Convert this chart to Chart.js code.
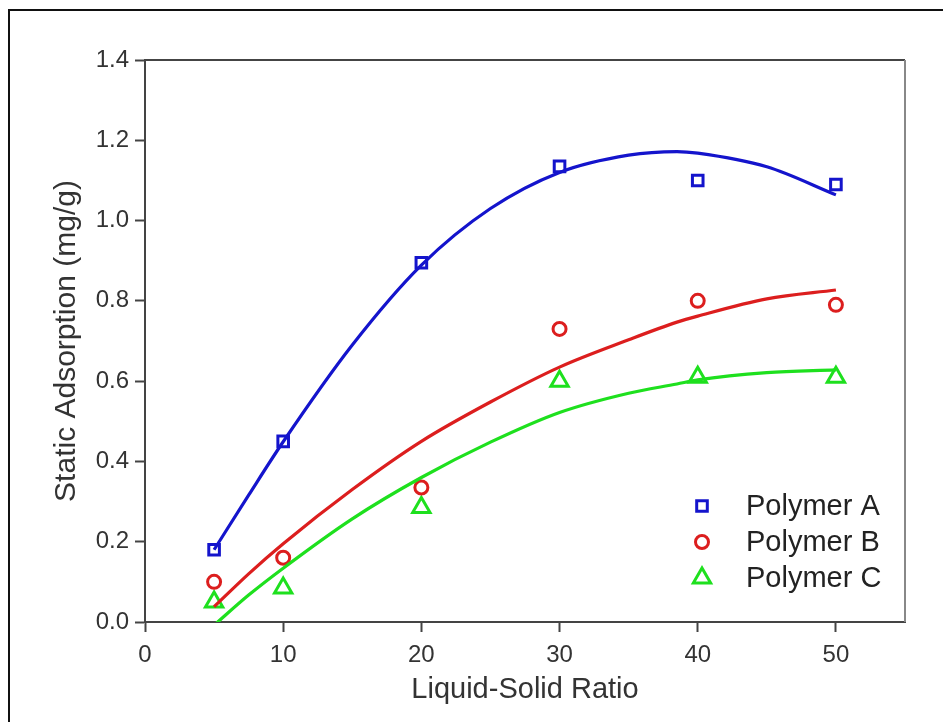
<!DOCTYPE html>
<html lang="en">
<head>
<meta charset="utf-8">
<title>Static Adsorption vs Liquid-Solid Ratio</title>
<script src="https://cdn.jsdelivr.net/npm/chart.js"></script>
<style>
  html, body { margin: 0; padding: 0; background: #fff; overflow: hidden; }
  #wrap { position: relative; width: 943px; height: 722px; }
  #frame { position: absolute; left: 8px; top: 9px; width: 1000px; height: 1000px; border: 2px solid #111; }
  #chart { position: absolute; left: 0; top: 0; }
</style>
<script>
  // measured points
  var dataX = [5, 10, 20, 30, 40, 50];
  var polyA = [0.18, 0.45, 0.895, 1.135, 1.10, 1.09];
  var polyB = [0.10, 0.16, 0.335, 0.73, 0.80, 0.79];
  var polyC = [0.05, 0.085, 0.285, 0.60, 0.61, 0.61];

  // fitted curves
  var fitX = [5, 7.5, 10, 15, 20, 25, 30, 35, 38.5, 40, 45, 50];
  var fitA = [0.18, 0.316, 0.449, 0.69, 0.889, 1.03, 1.12, 1.163, 1.172, 1.168, 1.134, 1.064];
  var fitB = [0.038, 0.12, 0.195, 0.33, 0.45, 0.548, 0.635, 0.703, 0.747, 0.762, 0.805, 0.827];
  var fitC = [-0.008, 0.067, 0.134, 0.257, 0.36, 0.448, 0.522, 0.570, 0.593, 0.603, 0.621, 0.628];

  var seriesNames = ["Polymer A", "Polymer B", "Polymer C"];
  var xTicks = [0, 10, 20, 30, 40, 50];

  var colors = ["#1414cc", "#dc1e1e", "#1ee01e"];
  var styles = ["rect", "circle", "triangle"];
  var radii = [7.5, 6.5, 10];

  function pts(xs, ys) {
    return xs.map(function (x, i) { return { x: x, y: ys[i] }; });
  }

  // box on top/right + legend inside the plot
  var boxLegend = {
    id: "boxLegend",
    afterDatasetsDraw: function (chart) {
      var ctx = chart.ctx;
      var a = chart.chartArea;
      ctx.save();
      ctx.lineWidth = 2;
      ctx.strokeStyle = "#444";
      ctx.beginPath();
      ctx.moveTo(a.left, a.top);
      ctx.lineTo(a.right, a.top);
      ctx.stroke();
      ctx.strokeStyle = "#888";
      ctx.beginPath();
      ctx.moveTo(a.right, a.top);
      ctx.lineTo(a.right, a.bottom);
      ctx.stroke();

      ctx.font = "29px 'Liberation Sans', Arial, sans-serif";
      ctx.textBaseline = "middle";
      ctx.textAlign = "left";
      for (var i = 0; i < 3; i++) {
        var y = a.bottom - 116 + i * 36;
        ctx.strokeStyle = colors[i];
        ctx.fillStyle = "rgba(0,0,0,0)";
        ctx.lineWidth = 3;
        Chart.helpers.drawPoint(ctx, { pointStyle: styles[i], radius: radii[i], rotation: 0, borderWidth: 3 }, a.right - 203, y);
        ctx.fillStyle = "#222";
        ctx.fillText(seriesNames[i], a.right - 159, y + 1);
      }
      ctx.restore();
    }
  };

  window.onload = function () {
    var ctx = document.getElementById("chart");
    var fits = [fitA, fitB, fitC];
    var marks = [polyA, polyB, polyC];
    var datasets = [];
    for (var i = 0; i < 3; i++) {
      datasets.push({
        label: seriesNames[i] + " fit",
        type: "line",
        data: pts(fitX, fits[i]),
        borderColor: colors[i],
        borderWidth: 3.2,
        pointRadius: 0,
        cubicInterpolationMode: "monotone",
        fill: false,
        clip: 0
      });
    }
    for (var j = 0; j < 3; j++) {
      datasets.push({
        label: seriesNames[j],
        type: "scatter",
        data: pts(dataX, marks[j]),
        borderColor: colors[j],
        backgroundColor: "rgba(0,0,0,0)",
        pointStyle: styles[j],
        pointRadius: radii[j],
        pointBorderWidth: 3,
        showLine: false
      });
    }

    new Chart(ctx, {
      type: "scatter",
      data: { datasets: datasets },
      plugins: [boxLegend],
      options: {
        responsive: false,
        devicePixelRatio: 1,
        animation: false,
        layout: { padding: { top: 60, right: 38, left: 0, bottom: 0 } },
        plugins: { legend: { display: false }, tooltip: { enabled: false } },
        scales: {
          x: {
            type: "linear",
            min: 0,
            max: 55,
            afterBuildTicks: function (axis) {
              axis.ticks = xTicks.map(function (v) { return { value: v }; });
            },
            afterFit: function (axis) { axis.height = 100; },
            grid: { drawOnChartArea: false, drawTicks: true, tickLength: 10, tickWidth: 2, tickColor: "#444" },
            border: { display: true, color: "#444", width: 2 },
            ticks: {
              color: "#333",
              padding: 9,
              maxRotation: 0,
              font: { family: "'Liberation Sans', Arial, sans-serif", size: 24 }
            },
            title: {
              display: true,
              text: "Liquid-Solid Ratio",
              color: "#333",
              padding: { top: 0, bottom: 14.5 },
              font: { family: "'Liberation Sans', Arial, sans-serif", size: 29 }
            }
          },
          y: {
            type: "linear",
            min: 0,
            max: 1.4,
            afterFit: function (axis) { axis.width = 145; },
            grid: { drawOnChartArea: false, drawTicks: true, tickLength: 10, tickWidth: 2, tickColor: "#444" },
            border: { display: true, color: "#444", width: 2 },
            ticks: {
              stepSize: 0.2,
              color: "#333",
              padding: 6,
              font: { family: "'Liberation Sans', Arial, sans-serif", size: 24 },
              callback: function (v) { return v.toFixed(1); }
            },
            title: {
              display: true,
              text: "Static Adsorption (mg/g)",
              color: "#333",
              padding: { top: 49, bottom: 0 },
              font: { family: "'Liberation Sans', Arial, sans-serif", size: 30 }
            }
          }
        }
      }
    });
  };
</script>
</head>
<body>
  <div id="wrap">
    <div id="frame"></div>
    <canvas id="chart" width="943" height="722"></canvas>
  </div>
</body>
</html>
